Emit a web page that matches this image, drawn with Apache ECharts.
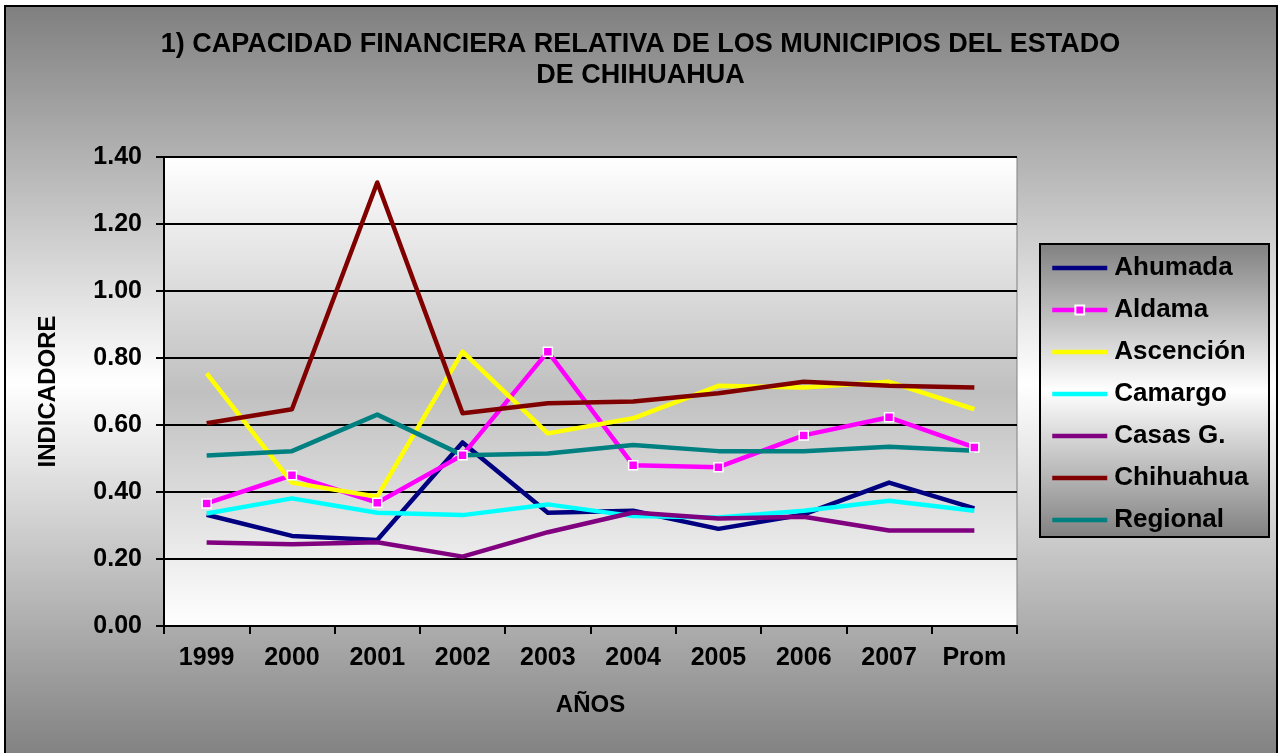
<!DOCTYPE html>
<html>
<head>
<meta charset="utf-8">
<script src="https://cdn.jsdelivr.net/npm/echarts@6/dist/echarts.min.js"></script>
<style>
html,body{margin:0;padding:0;background:#fff;}
#chart{width:1281px;height:753px;}
</style>
</head>
<body>
<div id="chart"></div>
<script>
var categories = ['1999','2000','2001','2002','2003','2004','2005','2006','2007','Prom'];
var ahumada   = [0.332,0.269,0.257,0.548,0.338,0.344,0.290,0.333,0.428,0.351];
var aldama    = [0.366,0.450,0.368,0.510,0.819,0.480,0.474,0.569,0.623,0.533];
var ascencion = [0.754,0.428,0.386,0.819,0.575,0.620,0.717,0.712,0.729,0.647];
var camargo   = [0.336,0.381,0.338,0.331,0.363,0.328,0.324,0.344,0.374,0.344];
var casasG    = [0.249,0.244,0.250,0.207,0.280,0.339,0.321,0.326,0.285,0.285];
var chihuahua = [0.605,0.647,1.324,0.635,0.665,0.670,0.695,0.729,0.717,0.712];
var regional  = [0.509,0.522,0.631,0.510,0.515,0.540,0.522,0.522,0.535,0.523];
var seriesNames = ['Ahumada','Aldama','Ascención','Camargo','Casas G.','Chihuahua','Regional'];
var yTicks = {min:0, max:1.4, interval:0.2};

var FONT = '"Liberation Sans", Arial, sans-serif';
var chart = echarts.init(document.getElementById('chart'));

function gray3(c1, c2){
  return new echarts.graphic.LinearGradient(0,0,0,1,[
    {offset:0,color:c1},{offset:0.5,color:c2},{offset:1,color:c1}]);
}

function mk(name, data, color, extra){
  var s = {
    name: name, type: 'line', data: data, color: color,
    symbol: 'none', lineStyle: {color: color, width: 4.5, join: 'round'}, z: 3
  };
  if (extra) Object.assign(s, extra);
  return s;
}

var option = {
  animation: false,
  graphic: [
    {type:'rect', z:-20, shape:{x:5,y:6,width:1272,height:756},
     style:{fill: gray3('#7f7f7f','#ffffff'), stroke:'#000', lineWidth:2}},
    {type:'rect', z:-10, shape:{x:1040,y:244,width:229,height:293},
     style:{fill: gray3('#808080','#ffffff'), stroke:'#000', lineWidth:2}}
  ],
  title: {
    text: '1) CAPACIDAD FINANCIERA RELATIVA DE LOS MUNICIPIOS DEL ESTADO\nDE CHIHUAHUA',
    left: 'center', top: 24,
    textStyle: {fontFamily: FONT, fontWeight: 'bold', fontSize: 27, lineHeight: 31, color: '#000'}
  },
  legend: {
    orient: 'vertical', left: 1050, top: 255, padding: 0,
    itemWidth: 55, itemHeight: 11, itemGap: 16,
    lineStyle: {width: 4.5},
    textStyle: {fontFamily: FONT, fontWeight: 'bold', fontSize: 26, lineHeight: 26, color: '#000', padding:[0,0,0,2]},
    data: seriesNames.map(function(n){
      return n === 'Aldama' ? {name: n} : {name: n, itemStyle: {opacity: 0}};
    })
  },
  grid: {
    left: 164, right: 264, top: 157, bottom: 127,
    show: true, backgroundColor: gray3('#ffffff','#c0c0c0'),
    borderColor: '#808080', borderWidth: 1
  },
  xAxis: {
    type: 'category', data: categories, boundaryGap: true,
    name: 'AÑOS', nameLocation: 'middle', nameGap: 67,
    nameTextStyle: {fontFamily: FONT, fontWeight: 'bold', fontSize: 24, color: '#000'},
    axisLine: {show: true, lineStyle: {color: '#000', width: 2}},
    axisTick: {show: true, length: 8, lineStyle: {color: '#000', width: 2}},
    axisLabel: {margin: 20, fontFamily: FONT, fontWeight: 'bold', fontSize: 25, color: '#000'},
    splitLine: {show: false}
  },
  yAxis: {
    type: 'value', min: yTicks.min, max: yTicks.max, interval: yTicks.interval,
    name: 'INDICADORE', nameLocation: 'middle', nameRotate: 90, nameGap: 104,
    nameTextStyle: {fontFamily: FONT, fontWeight: 'bold', fontSize: 24, color: '#000'},
    axisLine: {show: true, lineStyle: {color: '#000', width: 2}},
    axisTick: {show: true, length: 8, lineStyle: {color: '#000', width: 2}},
    axisLabel: {margin: 22, fontFamily: FONT, fontWeight: 'bold', fontSize: 25, color: '#000',
      formatter: function(v){ return v.toFixed(2); }},
    splitLine: {show: true, lineStyle: {color: '#000', width: 2}}
  },
  series: [
    mk(seriesNames[0], ahumada, '#000080'),
    mk(seriesNames[1], aldama, '#ff00ff', {symbol:'rect', symbolSize:9, showSymbol:true,
      itemStyle:{color:'#ff00ff', borderColor:'#ffffff', borderWidth:1.5}}),
    mk(seriesNames[2], ascencion, '#ffff00'),
    mk(seriesNames[3], camargo, '#00ffff'),
    mk(seriesNames[4], casasG, '#800080'),
    mk(seriesNames[5], chihuahua, '#800000'),
    mk(seriesNames[6], regional, '#008080')
  ]
};
chart.setOption(option);
</script>
</body>
</html>
